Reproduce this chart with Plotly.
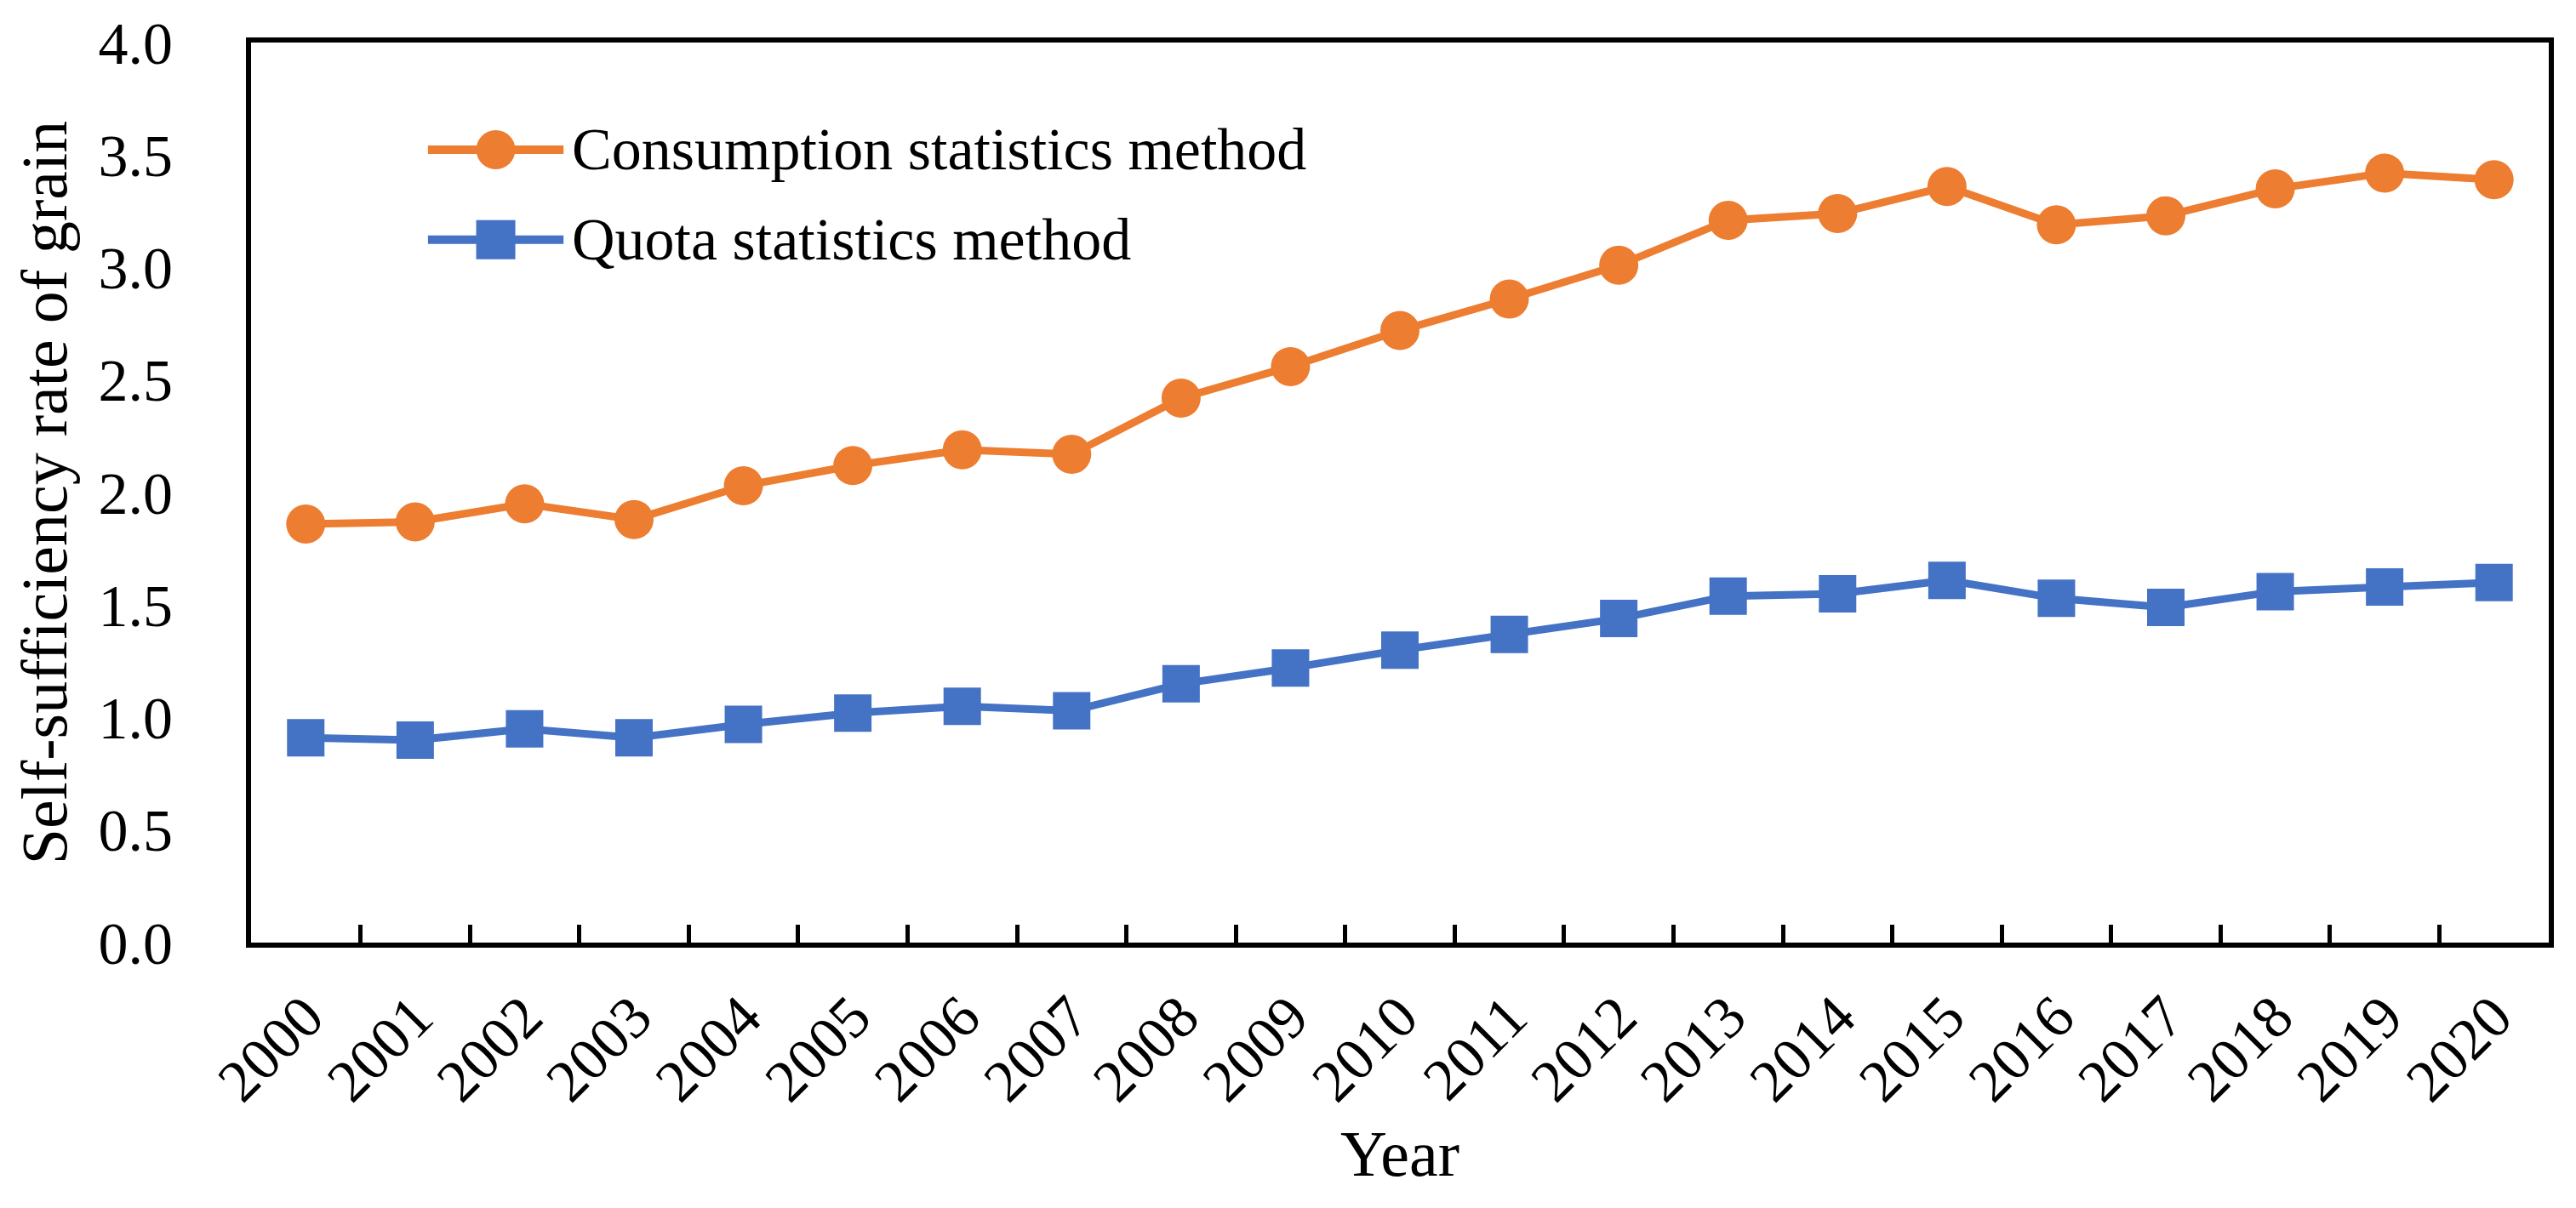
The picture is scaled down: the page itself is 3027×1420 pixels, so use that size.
import plotly.graph_objects as go

# data
years = [str(y) for y in range(2000, 2021)]
consumption = [1.86, 1.87, 1.95, 1.88, 2.03, 2.12, 2.19, 2.17, 2.42, 2.56, 2.72,
               2.86, 3.01, 3.21, 3.24, 3.36, 3.19, 3.23, 3.35, 3.42, 3.39]
quota = [0.91, 0.90, 0.95, 0.91, 0.97, 1.02, 1.05, 1.03, 1.15, 1.22, 1.30,
         1.37, 1.44, 1.54, 1.55, 1.61, 1.53, 1.49, 1.56, 1.58, 1.60]
series_names = ["Consumption statistics method", "Quota statistics method"]
y_ticks = [0.0, 0.5, 1.0, 1.5, 2.0, 2.5, 3.0, 3.5, 4.0]

ORANGE = "#ED7D31"
BLUE = "#4472C4"
FONT = "Liberation Serif, Times New Roman, serif"

fig = go.Figure()
fig.add_trace(go.Scatter(
    x=years, y=consumption, name=series_names[0], mode="lines+markers",
    line=dict(color=ORANGE, width=9),
    marker=dict(symbol="circle", size=46, color=ORANGE),
    showlegend=False,
))
fig.add_trace(go.Scatter(
    x=years, y=quota, name=series_names[1], mode="lines+markers",
    line=dict(color=BLUE, width=9),
    marker=dict(symbol="square", size=44, color=BLUE),
    showlegend=False,
))

# legend drawn by hand so the key glyphs match the plotted marker size
legend_rows = [(series_names[0], ORANGE, "circle", 0.881),
               (series_names[1], BLUE, "rect", 0.781)]
shapes = []
annotations = []
for name, color, kind, ypos in legend_rows:
    shapes.append(dict(type="line", xref="paper", yref="paper",
                       x0=0.077, x1=0.136, y0=ypos, y1=ypos,
                       line=dict(color=color, width=10)))
    shapes.append(dict(type=kind, xref="paper", yref="paper",
                       xsizemode="pixel", ysizemode="pixel",
                       xanchor=0.1065, yanchor=ypos,
                       x0=-23, x1=23, y0=-23, y1=23,
                       fillcolor=color, line=dict(width=0)))
    annotations.append(dict(text=name, xref="paper", yref="paper",
                            x=0.139, y=ypos, xanchor="left", yanchor="middle",
                            showarrow=False,
                            font=dict(family=FONT, size=70, color="black")))

# margins allow for the 8px page margin the browser adds around the plot div
fig.update_layout(
    width=3027, height=1420,
    margin=dict(l=287, r=40, t=42, b=320),
    paper_bgcolor="white", plot_bgcolor="white",
    font=dict(family=FONT, size=70, color="black"),
    shapes=shapes, annotations=annotations,
)
fig.update_xaxes(
    type="category", range=[-0.5, len(years) - 0.5], showgrid=False, automargin=False,
    showline=True, linewidth=6, linecolor="black", mirror=True,
    ticks="inside", tickson="boundaries", ticklen=21, tickwidth=5, tickcolor="black",
    tickangle=-45, tickfont=dict(family=FONT, size=70), ticklabelstandoff=12,
    title=dict(text="Year", font=dict(family=FONT, size=76), standoff=22),
)
fig.update_yaxes(
    range=[0, 4], tickvals=y_ticks, tickformat=".1f", showgrid=False, zeroline=False,
    automargin=False,
    showline=True, linewidth=6, linecolor="black", mirror=True, ticks="",
    tickfont=dict(family=FONT, size=70), ticklabelstandoff=72,
    title=dict(text="Self-sufficiency rate of grain", font=dict(family=FONT, size=76), standoff=14),
)

fig.write_html("out.html")
